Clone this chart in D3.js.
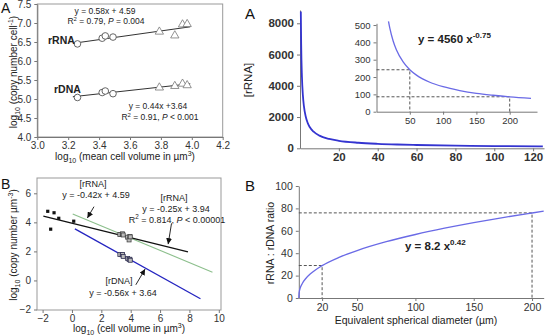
<!DOCTYPE html>
<html lang="en">
<head>
<meta charset="UTF-8">
<title>rRNA and rDNA scaling with cell size</title>
<style>
  body { margin: 0; background: #fff; }
  svg { display: block; font-family: Arial, "Liberation Sans", sans-serif; }
  .axis path, .axis line { stroke: #777; }
  .axis text { fill: #333; }
  .guide { stroke: #555; stroke-dasharray: 3,2; fill: none; }
</style>
<script src="https://d3js.org/d3.v7.min.js"></script>
</head>
<body>
<svg id="fig" width="547" height="336"></svg>
<script>
// ---- panel A (left): copies per cell vs log10 cell volume
const tlVolCircle = [3.26, 3.42, 3.44, 3.49];
const tlRrnaCircle = [6.45, 6.60, 6.66, 6.63];
const tlRdnaCircle = [5.04, 5.17, 5.21, 5.14];
const tlVolTri = [3.79, 3.89, 3.94, 3.97];
const tlRrnaTri = [6.77, 6.67, 6.96, 6.97];
const tlRdnaTri = [5.30, 5.34, 5.40, 5.36];
const tlRrnaFit = [[3.24, 6.47], [3.99, 6.90]];
const tlRdnaFit = [[3.23, 5.06], [3.99, 5.40]];
const tlXTicks = [3.0, 3.2, 3.4, 3.6, 3.8, 4.0, 4.2];
const tlYTicks = [4.0, 4.5, 5.0, 5.5, 6.0, 6.5, 7.0, 7.5];

// ---- panel B (left): copies per um3 vs log10 cell volume
const blVolSmall = [-1.65, -1.22, -1.45, -0.9, 0.12];
const blCopySmall = [4.76, 4.66, 3.53, 4.28, 4.08];
const blVolLarge = [3.26, 3.42, 3.44, 3.49, 3.79, 3.89, 3.94, 3.97];
const blRrnaLarge = [3.17, 3.16, 3.21, 3.13, 2.98, 2.79, 3.03, 3.00];
const blRdnaLarge = [1.78, 1.76, 1.78, 1.65, 1.51, 1.44, 1.46, 1.39];
const blBlackFit = [[-1.95, 4.43], [7.9, 1.97]];
const blGreenFit = [[0.05, 4.57], [9.57, 0.57]];
const blBlueFit = [[0.2, 3.55], [8.75, -1.26]];
const blXTicks = [-2, 0, 2, 4, 6, 8, 10];
const blYTicks = [-2, 0, 2, 4, 6];

// ---- panel A (right): [rRNA] vs diameter, plus inset
const trDiam = [0.42, 0.6, 1, 1.5, 2, 3, 4, 5, 7, 10, 15, 20, 30, 40, 50, 60, 80, 100, 125];
const trRrna = [8750, 6690, 4560, 3370, 2710, 2000, 1610, 1360, 1060, 810, 600, 480, 356, 287, 242, 211, 170, 144, 122];
const trXTicks = [20, 40, 60, 80, 100, 120];
const trYTicks = [0, 2000, 4000, 6000, 8000];
const inDiam = [18, 20, 25, 30, 40, 50, 60, 80, 100, 125, 150, 175, 200, 232];
const inRrna = [521, 482, 408, 356, 287, 242, 211, 170, 144, 122, 106, 95, 86, 77];
const inGuides = [[50, 242], [200, 86]];
const inXTicks = [50, 100, 150, 200];
const inYTicks = [0, 100, 200, 300, 400, 500];

// ---- panel B (right): rRNA:rDNA ratio vs diameter
const brDiam = [0, 0.2, 0.5, 1, 3, 6, 10, 20, 35, 50, 75, 100, 125, 150, 175, 200, 210];
const brRatio = [0, 4.2, 6.1, 8.2, 13.0, 17.4, 21.6, 28.9, 36.5, 42.4, 50.3, 56.7, 62.3, 67.3, 71.8, 75.9, 77.5];
const brGuides = [[20, 29], [200, 76]];
const brXTicks = [20, 50, 100, 150, 200];
const brYTicks = [0, 20, 40, 60, 80, 100];

const svg = d3.select("#fig");
svg.append("rect").attr("width", 547).attr("height", 336).attr("fill", "#fff");

const defs = svg.append("defs");
defs.append("marker").attr("id", "arrow")
  .attr("markerUnits", "userSpaceOnUse")
  .attr("markerWidth", 6).attr("markerHeight", 6)
  .attr("refX", 6).attr("refY", 3).attr("orient", "auto")
  .append("path").attr("d", "M0,0 L6,3 L0,6 z").attr("fill", "#111");

// text with sub/superscripts and italics
function rich(sel, x, y, parts, size, opts = {}) {
  const t = sel.append("text")
    .attr("x", x).attr("y", y)
    .attr("font-size", size)
    .attr("fill", opts.fill || "#222")
    .attr("font-weight", opts.weight || "normal")
    .attr("text-anchor", opts.anchor || "start");
  if (opts.rotate) t.attr("transform", `rotate(-90,${x},${y})`);
  let shift = 0;
  parts.forEach(p => {
    const [s, kind] = typeof p === "string" ? [p, null] : p;
    const target = kind === "sup" ? -size * 0.4 : kind === "sub" ? size * 0.28 : 0;
    const sp = t.append("tspan").attr("dy", target - shift).text(s);
    if (kind === "sup" || kind === "sub") sp.attr("font-size", size * 0.7);
    if (kind === "i") sp.attr("font-style", "italic");
    shift = target;
  });
  return t;
}

function styleAxis(g, size, weight) {
  g.attr("class", "axis");
  g.selectAll("text").attr("font-size", size).attr("font-weight", weight || "normal")
    .attr("font-family", "Arial, 'Liberation Sans', sans-serif");
}

const line = d3.line();

// ================= left A =================
{
  const x = d3.scaleLinear([3.0, 4.2], [37.3, 222.7]);
  const y = d3.scaleLinear([4.0, 7.5], [137, 4]);
  const g = svg.append("g");
  g.append("rect").attr("x", x(3.0)).attr("y", y(7.5))
    .attr("width", x(4.2) - x(3.0)).attr("height", y(4.0) - y(7.5))
    .attr("fill", "none").attr("stroke", "#999");
  styleAxis(g.append("g").attr("transform", `translate(${x(3.0)},0)`)
    .call(d3.axisLeft(y).tickValues(tlYTicks).tickFormat(d3.format(".1f")).tickSize(3).tickSizeOuter(0)), 10);
  styleAxis(g.append("g").attr("transform", `translate(0,${y(4.0)})`)
    .call(d3.axisBottom(x).tickValues(tlXTicks).tickFormat(d3.format(".1f")).tickSize(3).tickPadding(2).tickSizeOuter(0)), 10);

  [tlRrnaFit, tlRdnaFit].forEach(f => g.append("path")
    .attr("d", line(f.map(d => [x(d[0]), y(d[1])])))
    .attr("stroke", "#333").attr("stroke-width", 1).attr("fill", "none"));

  const circ = (vals) => g.append("g").selectAll("circle").data(tlVolCircle).join("circle")
    .attr("cx", d => x(d)).attr("cy", (d, i) => y(vals[i])).attr("r", 3.3)
    .attr("fill", "#fff").attr("stroke", "#555").attr("stroke-width", 0.9);
  circ(tlRrnaCircle); circ(tlRdnaCircle);
  const tri = d3.symbol(d3.symbolTriangle, 30);
  const tris = (vals) => g.append("g").selectAll("path").data(tlVolTri).join("path")
    .attr("transform", (d, i) => `translate(${x(d)},${y(vals[i])})`).attr("d", tri)
    .attr("fill", "#fff").attr("stroke", "#777").attr("stroke-width", 0.8);
  tris(tlRrnaTri); tris(tlRdnaTri);

  rich(g, 48, 44, ["rRNA"], 10.5, { weight: "bold" });
  rich(g, 54, 93, ["rDNA"], 10.5, { weight: "bold" });
  rich(g, 105, 13.5, ["y = 0.58x  + 4.59"], 8.5, { anchor: "middle" });
  rich(g, 106, 24, ["R", ["2", "sup"], " = 0.79, ", ["P", "i"], " = 0.004"], 8.5, { anchor: "middle" });
  rich(g, 158, 108.5, ["y = 0.44x +3.64"], 8.5, { anchor: "middle" });
  rich(g, 160, 120, ["R", ["2", "sup"], " = 0.91, ", ["P", "i"], " < 0.001"], 8.5, { anchor: "middle" });

  rich(g, 17, 72, ["log", ["10", "sub"], " (copy number cell", ["-1", "sup"], ")"], 10, { anchor: "middle", rotate: true });
  rich(g, 125, 160, ["log", ["10", "sub"], " (mean cell volume in µm", ["3", "sup"], ")"], 10, { anchor: "middle" });
  rich(g, 1, 13, ["A"], 14, { fill: "#111" });
}

// ================= left B =================
{
  const x = d3.scaleLinear([-2, 10], [42.6, 218.8]);
  const y = d3.scaleLinear([-2, 6], [309.5, 193.3]);
  const g = svg.append("g");
  g.append("rect").attr("x", 37).attr("y", 178).attr("width", 184).attr("height", 132)
    .attr("fill", "none").attr("stroke", "#999");
  styleAxis(g.append("g").attr("transform", "translate(37,0)")
    .call(d3.axisLeft(y).tickValues(blYTicks).tickSize(3).tickSizeOuter(0)), 10);
  g.selectAll(".axis .domain").remove();
  styleAxis(g.append("g").attr("transform", "translate(0,310)")
    .call(d3.axisBottom(x).tickValues(blXTicks).tickSize(3).tickPadding(2).tickSizeOuter(0)), 10);
  g.selectAll(".axis .domain").remove();

  g.append("path").attr("d", line(blGreenFit.map(d => [x(d[0]), y(d[1])])))
    .attr("stroke", "#8cbf8c").attr("stroke-width", 1.1).attr("fill", "none");
  g.append("path").attr("d", line(blBlueFit.map(d => [x(d[0]), y(d[1])])))
    .attr("stroke", "#2424c0").attr("stroke-width", 1.3).attr("fill", "none");
  g.append("path").attr("d", line(blBlackFit.map(d => [x(d[0]), y(d[1])])))
    .attr("stroke", "#111").attr("stroke-width", 1.3).attr("fill", "none");

  g.append("g").selectAll("rect").data(blVolSmall).join("rect")
    .attr("x", d => x(d) - 1.6).attr("y", (d, i) => y(blCopySmall[i]) - 1.6)
    .attr("width", 3.2).attr("height", 3.2).attr("fill", "#111");
  const sq = (vals, stroke) => g.append("g").selectAll("rect").data(blVolLarge).join("rect")
    .attr("x", d => x(d) - 2).attr("y", (d, i) => y(vals[i]) - 2)
    .attr("width", 4).attr("height", 4).attr("fill", "#bbb")
    .attr("stroke", stroke).attr("stroke-width", 0.8);
  sq(blRrnaLarge, "#444"); sq(blRdnaLarge, "#335");

  const arrow = (a, b) => g.append("line")
    .attr("x1", x(a[0])).attr("y1", y(a[1])).attr("x2", x(b[0])).attr("y2", y(b[1]))
    .attr("stroke", "#111").attr("stroke-width", 0.9).attr("marker-end", "url(#arrow)");
  arrow([1.5, 5.08], [1.05, 4.3]);
  arrow([6.78, 3.93], [6.55, 2.5]);
  arrow([4.35, -0.3], [4.98, 0.78]);

  rich(g, 93, 187, ["[rRNA]"], 9, { anchor: "middle" });
  rich(g, 96, 198, ["y = -0.42x + 4.59"], 9, { anchor: "middle" });
  rich(g, 174, 201, ["[rRNA]"], 9, { anchor: "middle" });
  rich(g, 176, 212, ["y = -0.25x + 3.94"], 9, { anchor: "middle" });
  rich(g, 177, 223, ["R", ["2", "sup"], " = 0.814, ", ["P", "i"], " < 0.00001"], 9, { anchor: "middle" });
  rich(g, 119, 284, ["[rDNA]"], 9, { anchor: "middle" });
  rich(g, 123, 296, ["y = -0.56x + 3.64"], 9, { anchor: "middle" });

  rich(g, 17, 245, ["log", ["10", "sub"], " (copy number µm", ["-3", "sup"], ")"], 10, { anchor: "middle", rotate: true });
  rich(g, 129, 332, ["log", ["10", "sub"], " (cell volume in µm", ["3", "sup"], ")"], 10, { anchor: "middle" });
  rich(g, 1, 189, ["B"], 14, { fill: "#111" });
}

// ================= right A =================
{
  const x = d3.scaleLinear([0, 125.6], [300, 544]);
  const y = d3.scaleLinear([0, 8850], [148.3, 10]);
  const g = svg.append("g");
  styleAxis(g.append("g").attr("transform", "translate(300,0)")
    .call(d3.axisLeft(y).tickValues(trYTicks).tickFormat(d3.format("d")).tickSize(3).tickSizeOuter(0)), 11.5, "bold");
  styleAxis(g.append("g").attr("transform", "translate(0,148.3)")
    .call(d3.axisBottom(x).tickValues(trXTicks).tickSize(3).tickPadding(2).tickSizeOuter(0)), 11.5, "bold");
  g.selectAll(".axis path, .axis line").attr("stroke", "#666");

  g.append("path").datum(trDiam.map((d, i) => [x(d), y(trRrna[i])]))
    .attr("d", d3.line().curve(d3.curveMonotoneX))
    .attr("stroke", "#3434d0").attr("stroke-width", 1.8).attr("fill", "none");

  // inset
  const xi = d3.scaleLinear([0, 241], [376.5, 537]);
  const yi = d3.scaleLinear([0, 510], [111.7, 23.3]);
  styleAxis(g.append("g").attr("transform", "translate(376.5,0)")
    .call(d3.axisLeft(yi).tickValues(inYTicks).tickSize(3).tickSizeOuter(0)), 9.5);
  styleAxis(g.append("g").attr("transform", "translate(0,111.7)")
    .call(d3.axisBottom(xi).tickValues(inXTicks).tickSize(3).tickSizeOuter(0)), 9.5);
  g.selectAll(".axis path, .axis line").attr("stroke", "#666");

  inGuides.forEach(([gx, gy]) => {
    g.append("path").attr("class", "guide")
      .attr("d", line([[xi(0), yi(gy)], [xi(gx), yi(gy)], [xi(gx), yi(0)]]));
  });
  g.append("path").datum(inDiam.map((d, i) => [xi(d), yi(inRrna[i])]))
    .attr("d", d3.line().curve(d3.curveMonotoneX))
    .attr("stroke", "#6a6ae6").attr("stroke-width", 1.3).attr("fill", "none");
  rich(g, 418, 43, ["y = 4560 x", ["-0.75", "sup"]], 11.5, { weight: "bold" });

  rich(g, 252, 80, ["[rRNA]"], 11.5, { anchor: "middle", rotate: true });
  rich(g, 245, 19, ["A"], 15, { fill: "#111" });
}

// ================= right B =================
{
  const x = d3.scaleLinear([0, 210], [298.8, 543.7]);
  const y = d3.scaleLinear([0, 100], [298, 186]);
  const g = svg.append("g");
  styleAxis(g.append("g").attr("transform", `translate(${x(0)},0)`)
    .call(d3.axisLeft(y).tickValues(brYTicks).tickSize(3).tickSizeOuter(0)), 10.5);
  styleAxis(g.append("g").attr("transform", `translate(0,${y(0)})`)
    .call(d3.axisBottom(x).tickValues(brXTicks).tickSize(3).tickSizeOuter(0)), 10.5);
  g.selectAll(".axis path, .axis line").attr("stroke", "#666");

  brGuides.forEach(([gx, gy]) => {
    g.append("path").attr("class", "guide")
      .attr("d", line([[x(0), y(gy)], [x(gx), y(gy)], [x(gx), y(0)]]));
  });
  g.append("path").datum(brDiam.map((d, i) => [x(d), y(brRatio[i])]))
    .attr("d", d3.line().curve(d3.curveMonotoneX))
    .attr("stroke", "#6a6ae6").attr("stroke-width", 1.3).attr("fill", "none");
  rich(g, 405, 250, ["y = 8.2 x", ["0.42", "sup"]], 11.5, { weight: "bold" });

  rich(g, 274, 243, ["rRNA : rDNA ratio"], 10.5, { anchor: "middle", rotate: true });
  rich(g, 416, 324, ["Equivalent spherical diameter (µm)"], 10.5, { anchor: "middle" });
  rich(g, 245, 191, ["B"], 15, { fill: "#111" });
}
</script>
</body>
</html>
